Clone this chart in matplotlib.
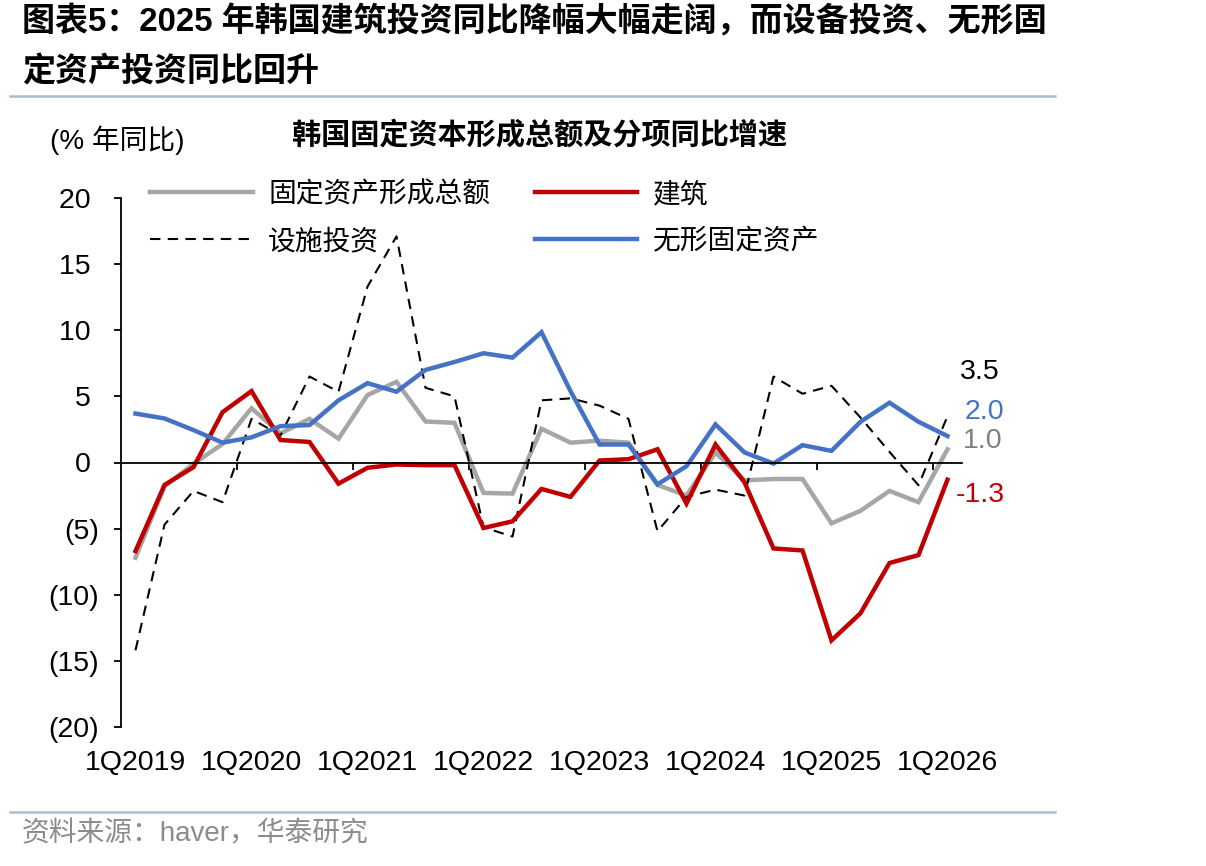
import matplotlib
matplotlib.use('Agg')
import matplotlib.pyplot as plt
from matplotlib.lines import Line2D

plt.rcParams['font.family'] = ['Liberation Sans', 'Noto Sans CJK SC', 'DejaVu Sans']

# quarterly categories 1Q2019 .. 1Q2026
quarters = [f'{q}Q{y}' for y in range(2019, 2027) for q in range(1, 5)][:29]

total = [-7.2, -1.8, -0.1, 1.4, 4.1, 2.2, 3.3, 1.8, 5.1, 6.1, 3.1, 3.0, -2.3, -2.35,
         2.55, 1.5, 1.65, 1.5, -1.7, -2.5, 0.75, -1.35, -1.25, -1.25, -4.6, -3.65,
         -2.15, -3.0, 1.0]
construction = [-6.7, -1.7, -0.35, 3.8, 5.4, 1.7, 1.55, -1.6, -0.4, -0.15, -0.2, -0.2,
                -4.95, -4.45, -2.0, -2.6, 0.15, 0.25, 1.0, -3.1, 1.36, -1.5, -6.5,
                -6.65, -13.45, -11.4, -7.6, -7.0, -1.3]
facility = [-14.2, -4.7, -2.15, -3.0, 3.3, 2.05, 6.5, 5.35, 13.3, 17.1, 5.65, 5.0,
            -4.9, -5.6, 4.7, 4.85, 4.3, 3.3, -5.2, -2.6, -2.05, -2.5, 6.5, 5.2, 5.8,
            3.4, 0.8, -1.72, 3.5]
intangible = [3.7, 3.33, 2.45, 1.5, 1.9, 2.75, 2.83, 4.7, 6.0, 5.35, 7.0, 7.6, 8.26,
              7.93, 9.85, 5.4, 1.36, 1.36, -1.65, -0.28, 2.88, 0.76, -0.08, 1.31, 0.88,
              3.08, 4.52, 3.08, 2.0]

yticks = [20, 15, 10, 5, 0, -5, -10, -15, -20]

GRAY = '#A6A6A6'
RED = '#C00000'
BLUE = '#4472C4'
NUM_FS = 20.5

fig = plt.figure(figsize=(12.06, 8.66), dpi=100)
ax = fig.add_axes([121 / 1206, 139 / 866, 841 / 1206, 529 / 866])

x = list(range(len(quarters)))
ax.plot(x, total, color=GRAY, lw=3.2, label='固定资产形成总额', solid_joinstyle='miter')
ax.plot(x, facility, color='black', lw=1.5, ls=(0, (5, 3.5)), label='设施投资')
ax.plot(x, construction, color=RED, lw=3.2, label='建筑', solid_joinstyle='miter')
ax.plot(x, intangible, color=BLUE, lw=3.2, label='无形固定资产', solid_joinstyle='miter')

ax.set_xlim(-0.5, len(quarters) - 0.5)
ax.set_ylim(-20, 20)

for s in ['top', 'right']:
    ax.spines[s].set_visible(False)
ax.spines['left'].set_linewidth(1.3)
ax.spines['bottom'].set_linewidth(1.3)
ax.spines['bottom'].set_position(('data', 0))

ax.set_xticks([i + 3.5 for i in range(0, 28, 4)])
ax.tick_params(axis='x', direction='out', length=5, width=1.3, labelbottom=False)
ax.set_yticks(yticks)
ax.set_yticklabels([f'{v} ' if v >= 0 else f'({-v})' for v in yticks])
ax.tick_params(axis='y', direction='out', length=5, width=1.3, labelsize=NUM_FS, pad=11)

for i, q in enumerate(quarters):
    if q.startswith('1Q'):
        ax.text(i, -0.068, q, transform=ax.get_xaxis_transform(), ha='center',
                va='center', fontsize=NUM_FS)

# end labels
ax.annotate(f'{facility[-1]:.1f}', (x[-1], facility[-1]), xytext=(9, 32),
            textcoords='offset points', fontsize=NUM_FS, color='black', va='center')
ax.annotate(f'{intangible[-1]:.1f}', (x[-1], intangible[-1]), xytext=(12, 17),
            textcoords='offset points', fontsize=NUM_FS, color=BLUE, va='center')
ax.annotate(f'{total[-1]:.1f}', (x[-1], total[-1]), xytext=(11, 6),
            textcoords='offset points', fontsize=NUM_FS, color='#7F7F7F', va='center')
ax.annotate(f'{construction[-1]:.1f}', (x[-1], construction[-1]), xytext=(6, -11),
            textcoords='offset points', fontsize=NUM_FS, color=RED, va='center')

leg = ax.legend(ncol=2, loc='upper left', bbox_to_anchor=(150 / 1206, 1 - 179 / 866),
                bbox_transform=fig.transFigure, frameon=False, fontsize=20,
                handlelength=3.7, handletextpad=0.55, columnspacing=1.6,
                labelspacing=0.62, borderpad=0, borderaxespad=0)
for t in leg.get_texts():
    t.set_family(['Noto Sans CJK SC'])

# titles and notes
fig.text(22 / 1206, 1 - 22 / 866, '图表5：2025 年韩国建筑投资同比降幅大幅走阔，而设备投资、无形固',
         fontsize=23.8, fontweight='bold', va='center', ha='left')
fig.text(22 / 1206, 1 - 72 / 866, '定资产投资同比回升',
         fontsize=23.8, fontweight='bold', va='center', ha='left')
fig.add_artist(Line2D([10 / 1206, 1055 / 1206], [1 - 96 / 866] * 2, color='#A9BCD8',
                      lw=1.8, transform=fig.transFigure))
fig.text(540 / 1206, 1 - 135 / 866, '韩国固定资本形成总额及分项同比增速',
         fontsize=21, fontweight='bold', ha='center', va='center')
fig.text(50 / 1206, 1 - 140 / 866, '(% 年同比)', fontsize=20, ha='left', va='center')
fig.add_artist(Line2D([10 / 1206, 1055 / 1206], [1 - 812 / 866] * 2, color='#A9BCD8',
                      lw=1.8, transform=fig.transFigure))
fig.text(22 / 1206, 1 - 834 / 866, '资料来源：haver，华泰研究', fontsize=20,
         color='#8C8C8C', ha='left', va='center')

fig.savefig('out.png', dpi=100)
